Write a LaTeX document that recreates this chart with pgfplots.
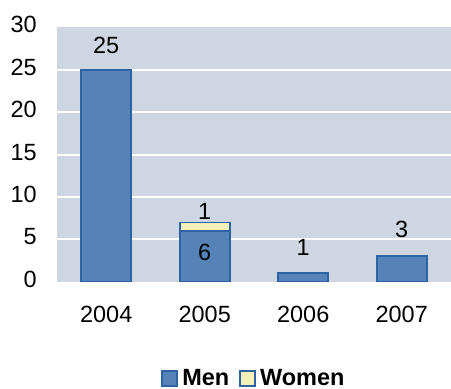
\documentclass[border=0pt]{standalone}
\usepackage{fontspec}
\setmainfont{Liberation Sans}
\usepackage{pgfplots}
\pgfplotsset{compat=1.18}

\definecolor{plotbg}{HTML}{CED6E2}
\definecolor{menfill}{HTML}{5583B8}
\definecolor{barline}{HTML}{2D63A5}
\definecolor{womenfill}{HTML}{F5F0B8}

\begin{document}
\begin{tikzpicture}[font=\fontsize{17.6}{21}\selectfont]
\begin{axis}[
  scale only axis,
  width=295.5pt, height=190.9pt,
  ybar stacked,
  bar width=37.5pt,
  xmin=-0.5, xmax=3.5,
  ymin=0, ymax=30,
  xtick={0,1,2,3},
  xticklabels={2004,2005,2006,2007},
  ytick={0,5,...,30},
  extra y ticks={5,10,15,20,25},
  extra y tick labels={},
  extra y tick style={grid=major},
  grid style={white, line width=1.5pt},
  major tick length=0pt,
  axis line style={draw=none},
  axis background/.style={fill=plotbg},
  /pgf/number format/assume math mode=true,
  xticklabel style={anchor=center, yshift=-24.75pt},
  yticklabel style={anchor=east, inner sep=0pt, xshift=-15pt, yshift=1.9pt},
  legend style={at={(0.5,-0.381)}, anchor=center, draw=none, fill=none,
    font=\bfseries\fontsize{17.6}{21}\selectfont,
    legend columns=2,
    /tikz/every odd column/.append style={column sep=1.5pt},
    /tikz/every even column/.append style={column sep=5pt}},
  legend image code/.code={\draw[#1] (0pt,-5.6pt) rectangle (11.25pt,5.6pt);},
]
\addplot[fill=menfill, draw=barline, line width=1.4pt] coordinates {(0,25) (1,6) (2,1) (3,3)};
\addlegendentry{Men}
\addplot[fill=womenfill, draw=barline, line width=1.4pt] coordinates {(0,0) (1,1) (2,0) (3,0)};
\addlegendentry{Women}

% label positions
\coordinate (la) at (axis cs:0,27.86);
\coordinate (lb) at (axis cs:1,8.29);
\coordinate (lc) at (axis cs:1,3.45);
\coordinate (ld) at (axis cs:2,4.04);
\coordinate (le) at (axis cs:3,6.13);

\coordinate (bbsw) at (rel axis cs:0,0);
\coordinate (bbne) at (rel axis cs:1,1);
\end{axis}
\node at (la) {25};
\node at (lb) {1};
\node at (lc) {6};
\node at (ld) {1};
\node at (le) {3};
\pgfresetboundingbox
\path ([shift={(-42.75pt,-80.25pt)}]bbsw) rectangle ([shift={(0pt,20.5pt)}]bbne);
\end{tikzpicture}
\end{document}
